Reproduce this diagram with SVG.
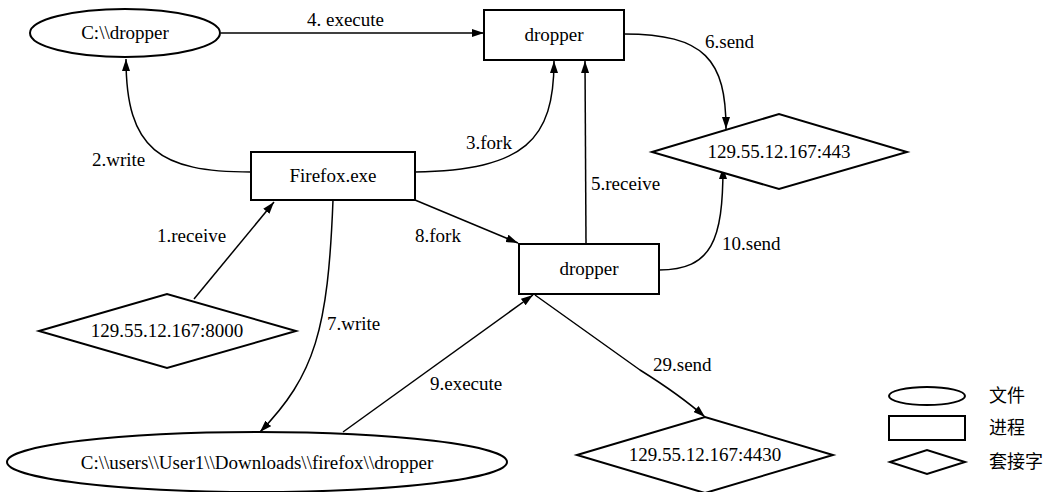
<svg xmlns="http://www.w3.org/2000/svg" width="1048" height="492" viewBox="0 0 1048 492">
<defs>
<marker id="a" viewBox="0 0 12 8" refX="12" refY="4" markerWidth="12" markerHeight="8" markerUnits="userSpaceOnUse" orient="auto">
<path d="M0,0 L12,4 L0,8 Z" fill="#000"/>
</marker>
</defs>
<rect width="1048" height="492" fill="#fff"/>
<g id="connectors" fill="none" stroke="#000" stroke-width="1.5">
<path d="M221,33 L484,33" marker-end="url(#a)"/>
<path d="M251,172 C160,172 126,150 126,59" marker-end="url(#a)"/>
<path d="M415,172 C525,170 554,140 554,61" marker-end="url(#a)"/>
<path d="M586,244 L585,61" marker-end="url(#a)"/>
<path d="M624,34 C705,34 726,60 726,129" marker-end="url(#a)"/>
<path d="M659,270 C712,270 723,240 723,167" marker-end="url(#a)"/>
<path d="M194,299 L274,202" marker-end="url(#a)"/>
<path d="M333,200 C328,330 315,375 260,432" marker-end="url(#a)"/>
<path d="M415,200 L518,243" marker-end="url(#a)"/>
<path d="M343,432 L533,295" marker-end="url(#a)"/>
<path d="M535,295 L640,370 Q680,395 705,417" marker-end="url(#a)"/>
</g>
<g id="connector-labels">
<text x="307" y="26" font-family="Liberation Serif" font-size="19">4. execute</text>
<text x="92" y="166" font-family="Liberation Serif" font-size="19">2.write</text>
<text x="466" y="149" font-family="Liberation Serif" font-size="19">3.fork</text>
<text x="591" y="190" font-family="Liberation Serif" font-size="19">5.receive</text>
<text x="705" y="48" font-family="Liberation Serif" font-size="19">6.send</text>
<text x="722" y="250" font-family="Liberation Serif" font-size="19">10.send</text>
<text x="157" y="242" font-family="Liberation Serif" font-size="19">1.receive</text>
<text x="327" y="330" font-family="Liberation Serif" font-size="19">7.write</text>
<text x="415" y="242" font-family="Liberation Serif" font-size="19">8.fork</text>
<text x="430" y="390" font-family="Liberation Serif" font-size="19">9.execute</text>
<text x="653" y="371" font-family="Liberation Serif" font-size="19">29.send</text>
</g>
<g id="file1">
<ellipse cx="125" cy="33" rx="95" ry="24" fill="#fff" stroke="#000" stroke-width="2"/>
<text x="125" y="39" text-anchor="middle" font-family="Liberation Serif" font-size="19">C:\\dropper</text>
</g>
<g id="proc_dropper_top">
<rect x="484" y="10" width="140" height="50" fill="#fff" stroke="#000" stroke-width="2"/>
<text x="554" y="41" text-anchor="middle" font-family="Liberation Serif" font-size="19">dropper</text>
</g>
<g id="proc_firefox">
<rect x="251" y="152" width="164" height="48" fill="#fff" stroke="#000" stroke-width="2"/>
<text x="333" y="182" text-anchor="middle" font-family="Liberation Serif" font-size="19">Firefox.exe</text>
</g>
<g id="proc_dropper_mid">
<rect x="519" y="244" width="140" height="50" fill="#fff" stroke="#000" stroke-width="2"/>
<text x="589" y="275" text-anchor="middle" font-family="Liberation Serif" font-size="19">dropper</text>
</g>
<g id="sock443">
<polygon points="652,152 779,114 907,152 779,189" fill="#fff" stroke="#000" stroke-width="2"/>
<text x="779" y="158" text-anchor="middle" font-family="Liberation Serif" font-size="19">129.55.12.167:443</text>
</g>
<g id="sock8000">
<polygon points="39,331 167,294 296,331 167,368" fill="#fff" stroke="#000" stroke-width="2"/>
<text x="167" y="337" text-anchor="middle" font-family="Liberation Serif" font-size="19">129.55.12.167:8000</text>
</g>
<g id="file2">
<ellipse cx="257" cy="462" rx="250" ry="30" fill="#fff" stroke="#000" stroke-width="2"/>
<text x="257" y="469" text-anchor="middle" font-family="Liberation Serif" font-size="19">C:\\users\\User1\\Downloads\\firefox\\dropper</text>
</g>
<g id="sock4430">
<polygon points="577,455 705,417 833,455 705,493" fill="#fff" stroke="#000" stroke-width="2"/>
<text x="705" y="461" text-anchor="middle" font-family="Liberation Serif" font-size="19">129.55.12.167:4430</text>
</g>
<g id="legend">
<ellipse cx="927" cy="396" rx="38" ry="9" fill="#fff" stroke="#000" stroke-width="2"/>
<text x="989" y="402" font-family="Noto Sans CJK SC" font-size="18">文件</text>
<rect x="889" y="416" width="76" height="24" fill="#fff" stroke="#000" stroke-width="2"/>
<text x="989" y="434" font-family="Noto Sans CJK SC" font-size="18">进程</text>
<polygon points="890,462 927,450 965,462 927,474" fill="#fff" stroke="#000" stroke-width="2"/>
<text x="989" y="468" font-family="Noto Sans CJK SC" font-size="18">套接字</text>
</g>
</svg>
